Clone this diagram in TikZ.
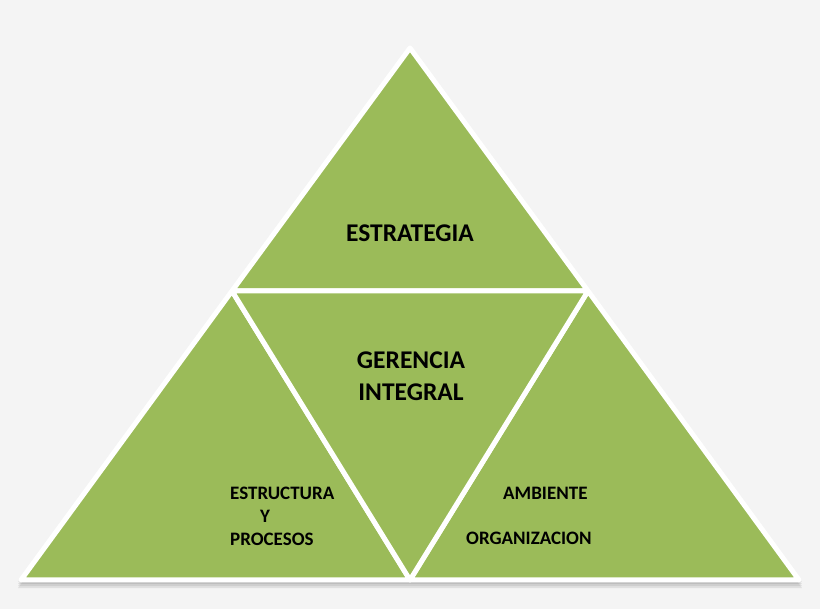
\documentclass[tikz,border=0pt]{standalone}
\usepackage{fontspec}
\setmainfont{Carlito}
\usepackage{xcolor}
\usetikzlibrary{positioning, calc}

\definecolor{olivegreen}{HTML}{9BBB59}
\definecolor{pagebg}{HTML}{F4F4F4}

\begin{document}
\begin{tikzpicture}[
    x=1pt, y=-1pt,
    tri/.style={fill=olivegreen, draw=white, line width=5pt, line join=round},
    shade/.style={fill=black, opacity=0.08, draw=none},
    bigtext/.style={font=\fontsize{25.5}{32}\selectfont\bfseries, text=black, inner sep=0pt, align=center},
    smalltext/.style={font=\fontsize{19}{23}\selectfont\bfseries, text=black, inner sep=0pt, align=left},
]

% === Page and margins ===
\fill[pagebg] (0,0) rectangle (820,609);
\useasboundingbox (0,0) rectangle (820,609);

% === Corner points ===
\coordinate (apex) at (410,48);
\coordinate (ml) at (232,291);
\coordinate (mr) at (588,291);
\coordinate (bl) at (21,580);
\coordinate (bm) at (410,580);
\coordinate (br) at (799,580);

% === Soft shadow below the pyramid ===
\foreach \d in {2,4,6,8}
  \fill[shade] ($(bl)+(-3,\d)$) -- ($(br)+(3,\d)$) -- ($(apex)+(0,\d)$) -- cycle;

% === Four triangles ===
\draw[tri] (apex) -- (ml) -- (mr) -- cycle;
\draw[tri] (ml) -- (bl) -- (bm) -- cycle;
\draw[tri] (mr) -- (bm) -- (br) -- cycle;
\draw[tri] (ml) -- (mr) -- (bm) -- cycle;

% === Labels ===
\node[bigtext, anchor=base] (estrategia) at (410,242) {ESTRATEGIA};
\node[bigtext, anchor=base] (gerencia) at (411,401) {GERENCIA\\INTEGRAL};
\node[smalltext, anchor=base west] (estructura) at (230,546) {ESTRUCTURA\\\hspace*{30pt}Y\\PROCESOS};
\node[smalltext, anchor=base west] (ambiente) at (503,500) {AMBIENTE};
\node[smalltext, anchor=base west] (organizacion) at (466,545) {ORGANIZACION};

\end{tikzpicture}
\end{document}
